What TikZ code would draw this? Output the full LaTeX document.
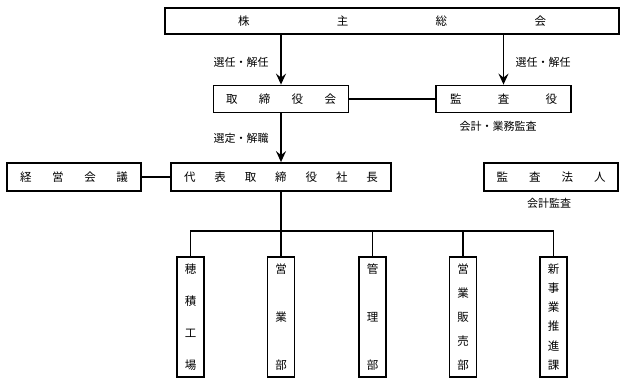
\documentclass[tikz,border=0pt]{standalone}
\usepackage{fontspec}
\setmainfont{Noto Sans CJK JP}
\usetikzlibrary{arrows.meta}
\newcommand{\hspread}[2]{\makebox[#1]{#2}}
\newcommand{\vspread}[1]{\parbox[c][106pt][s]{12pt}{\centering #1}}
\begin{document}
\begin{tikzpicture}[x=1pt,y=-1pt,
  orgbox/.style={draw, line width=1.8pt, inner sep=0pt, minimum height=27pt, font=\fontsize{11.5}{12}\selectfont},
  vbox/.style={draw, line width=1.8pt, inner sep=0pt, minimum width=27pt, minimum height=120pt, font=\fontsize{11.5}{12}\selectfont},
  lbl/.style={inner sep=0pt, font=\fontsize{11}{12}\selectfont},
  conn/.style={line width=1.5pt},
  arr/.style={line width=1.6pt, -{Stealth[length=11pt,width=10pt,inset=4pt]}}]
\useasboundingbox (0,0) rectangle (626,385);
\node[orgbox, minimum width=454pt, minimum height=26pt] (soukai) at (392,21) {\hspread{308pt}{株\hfill 主\hfill 総\hfill 会}};
\node[orgbox, minimum width=135pt] (tori) at (281,99) {\hspread{110pt}{取\hfill 締\hfill 役\hfill 会}};
\node[orgbox, minimum width=135pt] (kansa) at (503.5,99) {\hspread{107pt}{監\hfill 査\hfill 役}};
\node[orgbox, minimum width=220pt, minimum height=28pt] (pres) at (281,177) {\hspread{194pt}{代\hfill 表\hfill 取\hfill 締\hfill 役\hfill 社\hfill 長}};
\node[orgbox, minimum width=134pt, minimum height=28pt] (keiei) at (74,177) {\hspread{108pt}{経\hfill 営\hfill 会\hfill 議}};
\node[orgbox, minimum width=134pt, minimum height=28pt] (houjin) at (551,177) {\hspread{109pt}{監\hfill 査\hfill 法\hfill 人}};
\node[vbox] (b1) at (190.5,317) {\vspread{穂\par\vfill 積\par\vfill 工\par\vfill 場}};
\node[vbox] (b2) at (281,317) {\vspread{営\par\vfill 業\par\vfill 部}};
\node[vbox] (b3) at (372.5,317) {\vspread{管\par\vfill 理\par\vfill 部}};
\node[vbox] (b4) at (463,317) {\vspread{営\par\vfill 業\par\vfill 販\par\vfill 売\par\vfill 部}};
\node[vbox] (b5) at (553.5,317) {\vspread{新\par\vfill 事\par\vfill 業\par\vfill 推\par\vfill 進\par\vfill 課}};
\node[lbl] (l1) at (241,62) {選任・解任};
\node[lbl] (l2) at (543,62) {選任・解任};
\node[lbl] (l3) at (498,126) {会計・業務監査};
\node[lbl] (l4) at (241,138) {選定・解職};
\node[lbl] (l5) at (549,203) {会計監査};
\coordinate (bus) at (281,231);
\draw[arr] (soukai.south -| tori) -- (tori.north);
\draw[arr] (soukai.south -| kansa) -- (kansa.north);
\draw[conn] (tori) -- (kansa);
\draw[arr] (tori) -- (pres);
\draw[conn] (keiei) -- (pres);
\draw[conn] (pres.south) -- (bus);
\draw[conn, line join=miter] (b1.north) |- (bus) -| (b5.north);
\draw[conn] (b2.north) -- (b2.north |- bus);
\draw[conn] (b3.north) -- (b3.north |- bus);
\draw[conn] (b4.north) -- (b4.north |- bus);
\end{tikzpicture}
\end{document}
